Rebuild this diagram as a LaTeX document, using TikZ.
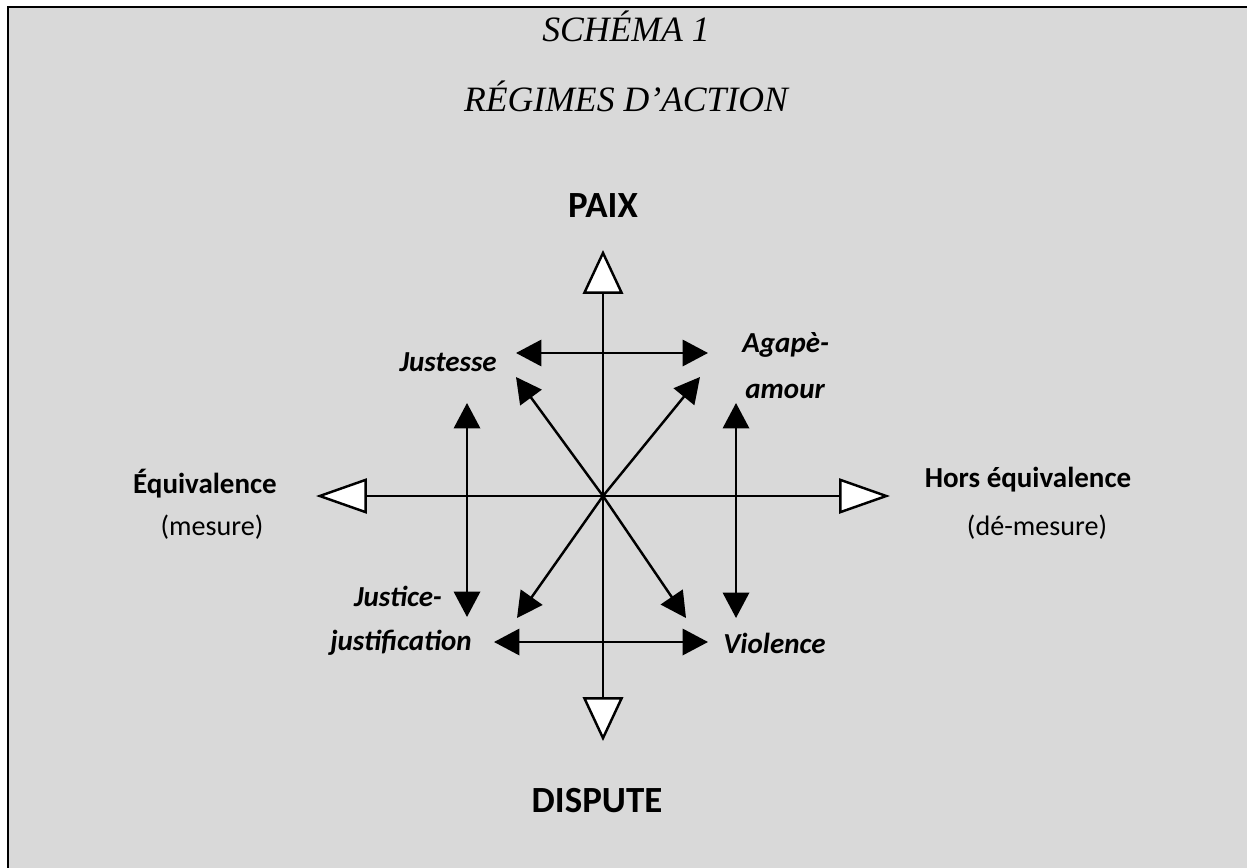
\documentclass[tikz,border=0pt]{standalone}
\usepackage{fontspec}
\setmainfont{Carlito}
\newfontfamily\titlefont{Liberation Serif}
\usetikzlibrary{arrows.meta,positioning}

\definecolor{fondgris}{HTML}{D9D9D9}

\begin{document}
\begin{tikzpicture}[
    x=0.02cm, y=-0.02cm,
    axe/.style={line width=1.4pt},
    vaxe/.style={axe, {Triangle[length=25pt,width=23pt,fill=white]}-{Triangle[length=25pt,width=23pt,fill=white]}},
    haxe/.style={axe, {Triangle[length=29pt,width=20pt,fill=white]}-{Triangle[length=29pt,width=20pt,fill=white]}},
    fleche/.style={line width=1.4pt, -{Triangle[length=14.5pt,width=15pt]}},
    double/.style={line width=1.4pt, {Triangle[length=14.5pt,width=15pt]}-{Triangle[length=14.5pt,width=15pt]}},
    titre/.style={anchor=base, inner sep=0pt, font=\titlefont\itshape\fontsize{20.3}{24}\selectfont},
    pole/.style={anchor=base, inner sep=0pt, font=\bfseries\fontsize{21}{24}\selectfont},
    cote/.style={anchor=base, inner sep=0pt, font=\bfseries\fontsize{16.5}{18}\selectfont},
    sous/.style={anchor=base, inner sep=0pt, font=\fontsize{16}{18}\selectfont},
    regime/.style={anchor=base, inner sep=0pt, font=\bfseries\itshape\fontsize{16.5}{18}\selectfont}
]
    \useasboundingbox (0,0) rectangle (1247,868);
    % cadre
    \fill[fondgris] (8,7) rectangle (1247,868);
    \draw[line width=1.4pt] (8,868) -- (8,7) -- (1247,7);

    % titres
    \node[titre] (schema) at (626,42) {SCHÉMA 1};
    \node[titre] (regimes) at (626,112) {RÉGIMES D’ACTION};

    % axes
    \coordinate (O) at (603,496);
    \coordinate (nord) at (603,250);
    \coordinate (sud) at (603,741);
    \coordinate (ouest) at (316,496);
    \coordinate (est) at (890,496);
    \draw[vaxe] (nord) -- (sud);
    \draw[haxe] (ouest) -- (est);

    % diagonales
    \foreach \nom/\x/\y in {no/516/377, ne/700/377, so/517/618, se/686/618} {
        \coordinate (\nom) at (\x,\y);
        \draw[fleche] (O) -- (\nom);
    }

    % doubles fleches
    \coordinate (hg) at (516,353);
    \coordinate (hd) at (708,353);
    \coordinate (bg) at (494,642);
    \coordinate (bd) at (708,642);
    \coordinate (gh) at (467,403);
    \coordinate (gb) at (467,617);
    \coordinate (dh) at (736,403);
    \coordinate (db) at (736,618);
    \draw[double] (hg) -- (hd);
    \draw[double] (bg) -- (bd);
    \draw[double] (gh) -- (gb);
    \draw[double] (dh) -- (db);

    % poles
    \node[pole] (paix) at (603,217) {PAIX};
    \node[pole] (dispute) at (597,812) {DISPUTE};
    \node[cote] (equi) at (205,493) {Équivalence};
    \node[sous] (mesure) at (212,535) {(mesure)};
    \node[cote] (hors) at (1028,487) {Hors équivalence};
    \node[sous] (demesure) at (1037,535) {(dé-mesure)};

    % regimes
    \node[regime, anchor=base east] (justesse) at (497,371) {Justesse};
    \node[regime, anchor=base west] (agape) at (742,352) {Agapè-};
    \node[regime, anchor=base west] (amour) at (745,398) {amour};
    \node[regime] (justice) at (398,606) {Justice-};
    \node[regime] (justif) at (401,650) {justification};
    \node[regime, anchor=base west] (violence) at (723,653) {Violence};
\end{tikzpicture}
\end{document}
